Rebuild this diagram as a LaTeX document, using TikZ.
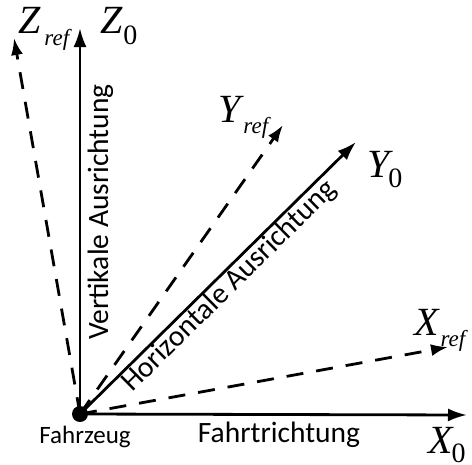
\documentclass[tikz,border=0pt]{standalone}
\usepackage{fontspec}
\setmainfont{Liberation Serif}
\newfontfamily\calfont{Carlito}
\usetikzlibrary{arrows.meta}
\newcommand\mysubref[1]{\raisebox{-#1}{\fontsize{23}{23}\selectfont\itshape ref}}
\newcommand\mysubzero[1]{\raisebox{-#1}{\fontsize{28}{28}\selectfont\upshape 0}}
\tikzset{
  axisarrow/.style={line width=2.8pt, -{Latex[length=19pt,width=13pt]}},
  refarrow/.style={line width=2.8pt, dash pattern=on 17pt off 13pt, -{Latex[length=17pt,width=12pt]}},
  sanslbl/.style={font=\calfont\fontsize{29.5}{29.5}\selectfont, inner sep=0pt},
  axlbl/.style={font=\fontsize{40}{40}\selectfont\itshape, inner sep=0pt, anchor=base west},
}
\begin{document}
\begin{tikzpicture}[x=1pt,y=-1pt]
\useasboundingbox (0,0) rectangle (472,464);
\node[circle, fill, inner sep=0pt, minimum size=16pt] (o) at (80,414) {};
\coordinate (x0) at (467,415);
\coordinate (z0) at (80,28);
\coordinate (y0) at (356,142);
\coordinate (xr) at (448,347);
\coordinate (yr) at (283,125);
\coordinate (zr) at (14,38);
\draw[axisarrow] (o.center) -- (x0);
\draw[axisarrow] (o.center) -- (z0);
\draw[axisarrow] (o.center) -- (y0);
\draw[refarrow] (o.center) -- (xr);
\draw[refarrow] (o.center) -- (yr);
\draw[refarrow] (o.center) -- (zr);
\node[axlbl] (lzr) at (18,33) {Z\hspace{4pt}\mysubref{12pt}};
\node[axlbl] (lz0) at (100,33) {Z\hspace{1pt}\mysubzero{11pt}};
\node[axlbl] (lyr) at (218,122) {Y\hspace{3pt}\mysubref{11pt}};
\node[axlbl] (ly0) at (367,177) {Y\hspace{-1pt}\mysubzero{10pt}};
\node[axlbl] (lxr) at (414,335) {X\hspace{2pt}\mysubref{11pt}};
\node[axlbl] (lx0) at (428,453) {X\hspace{-1pt}\mysubzero{9pt}};
\node[sanslbl, rotate=90, anchor=base] (vert) at (108,212) {Vertikale Ausrichtung};
\node[sanslbl, rotate=44.5, anchor=base] (horiz) at (235,292) {Horizontale Ausrichtung};
\node[sanslbl, font=\calfont\fontsize{25}{25}\selectfont, anchor=base] (fz) at (85,443) {Fahrzeug};
\node[sanslbl, anchor=base] (fr) at (279,442) {Fahrtrichtung};
\end{tikzpicture}
\end{document}
